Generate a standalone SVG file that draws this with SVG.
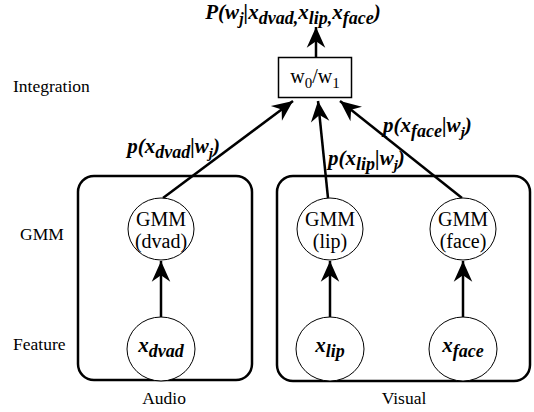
<svg xmlns="http://www.w3.org/2000/svg" width="534" height="412" viewBox="0 0 534 412" font-family="'Liberation Serif', 'DejaVu Serif', serif">
<style>
text{font-family:'Liberation Serif','DejaVu Serif',serif}
.lbl{font-size:17.5px;fill:#000}
.in{font-size:20px;fill:#000;text-anchor:middle}
.bi{font-size:21px;font-weight:bold;font-style:italic;fill:#000}
.grp{fill:none;stroke:#000;stroke-width:2.5}
.node{fill:#fff;stroke:#000;stroke-width:1}
.edge{stroke:#000;stroke-width:2.5;fill:none}
</style>
<defs>
<marker id="ah" markerUnits="userSpaceOnUse" markerWidth="24" markerHeight="24" viewBox="-20 -10 22 20" refX="0" refY="0" orient="auto">
<path d="M0,0 L-19,-8.5 L-13,0 L-19,8.5 Z" fill="#000"/>
</marker>
</defs>
<rect width="534" height="412" fill="#fff"/>

<g id="groups">
<rect class="grp" x="78" y="176" width="174" height="204" rx="16" ry="16"/>
<rect class="grp" x="277" y="176" width="253" height="205" rx="16" ry="16"/>
</g>

<g id="labels">
<text class="lbl" x="13" y="92">Integration</text>
<text class="lbl" x="20" y="240">GMM</text>
<text class="lbl" x="13" y="350">Feature</text>
<text class="lbl" x="164" y="404" text-anchor="middle">Audio</text>
<text class="lbl" x="404" y="404" text-anchor="middle">Visual</text>
</g>

<g id="title">
<text class="bi" x="293" y="19" text-anchor="middle">P(w<tspan font-size="16" dy="5">j</tspan><tspan dy="-5">|x</tspan><tspan font-size="18" dy="5">dvad,</tspan><tspan dy="-5">x</tspan><tspan font-size="18" dy="5">lip,</tspan><tspan dy="-5">x</tspan><tspan font-size="18" dy="5">face</tspan><tspan dy="-5">)</tspan></text>
</g>

<g id="connectors">
<line class="edge" x1="316" y1="57" x2="316" y2="27" marker-end="url(#ah)"/>
<line class="edge" x1="163" y1="198" x2="293" y2="101" marker-end="url(#ah)"/>
<line class="edge" x1="328" y1="198" x2="318" y2="101" marker-end="url(#ah)"/>
<line class="edge" x1="462" y1="198" x2="340" y2="101" marker-end="url(#ah)"/>
<line class="edge" x1="161" y1="317" x2="161" y2="261" marker-end="url(#ah)"/>
<line class="edge" x1="330" y1="317" x2="330" y2="261" marker-end="url(#ah)"/>
<line class="edge" x1="463" y1="317" x2="463" y2="261" marker-end="url(#ah)"/>
<text class="bi" x="220" y="153" text-anchor="end">p(x<tspan font-size="18" dy="5">dvad</tspan><tspan dy="-5">|w</tspan><tspan font-size="15" dy="5">j</tspan><tspan dy="-5">)</tspan></text>
<text class="bi" x="328" y="165">p(x<tspan font-size="18" dy="5">lip</tspan><tspan dy="-5">|w</tspan><tspan font-size="15" dy="5">j</tspan><tspan dy="-5">)</tspan></text>
<text class="bi" x="383" y="132">p(x<tspan font-size="18" dy="5">face</tspan><tspan dy="-5">|w</tspan><tspan font-size="15" dy="5">j</tspan><tspan dy="-5">)</tspan></text>
</g>

<g id="integration">
<rect x="278.5" y="57.5" width="73" height="40" fill="#fff" stroke="#000" stroke-width="1.5"/>
<text class="in" x="315" y="83">w<tspan font-size="15" dy="5">0</tspan><tspan dy="-5">/w</tspan><tspan font-size="15" dy="5">1</tspan></text>
</g>

<g id="gmm-dvad">
<ellipse class="node" cx="161" cy="229" rx="33" ry="31"/>
<text class="in" x="161" y="226">GMM</text>
<text class="in" x="161" y="248">(dvad)</text>
</g>
<g id="gmm-lip">
<ellipse class="node" cx="330" cy="229" rx="33" ry="31"/>
<text class="in" x="330" y="226">GMM</text>
<text class="in" x="330" y="248">(lip)</text>
</g>
<g id="gmm-face">
<ellipse class="node" cx="463" cy="229" rx="33" ry="31"/>
<text class="in" x="463" y="226">GMM</text>
<text class="in" x="463" y="248">(face)</text>
</g>

<g id="x-dvad">
<ellipse class="node" cx="161" cy="349" rx="34" ry="32"/>
<text class="bi" x="161" y="352" text-anchor="middle" font-size="22">x<tspan font-size="18" dy="5">dvad</tspan></text>
</g>
<g id="x-lip">
<ellipse class="node" cx="330" cy="349" rx="34" ry="32"/>
<text class="bi" x="330" y="352" text-anchor="middle" font-size="22">x<tspan font-size="18" dy="5">lip</tspan></text>
</g>
<g id="x-face">
<ellipse class="node" cx="463" cy="349" rx="34" ry="32"/>
<text class="bi" x="463" y="352" text-anchor="middle" font-size="22">x<tspan font-size="18" dy="5">face</tspan></text>
</g>
</svg>
